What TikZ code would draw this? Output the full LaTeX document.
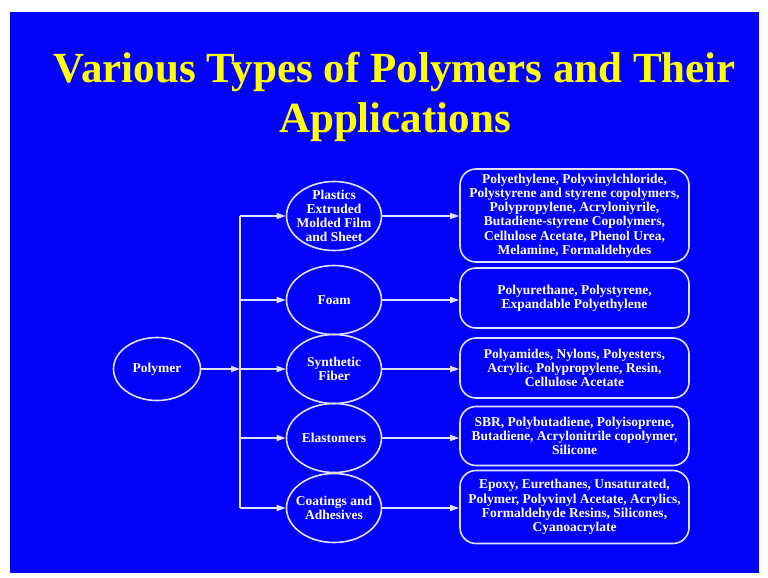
\documentclass[tikz,border=0pt]{standalone}
\usepackage{fontspec}
\setmainfont{Liberation Serif}
\usetikzlibrary{shapes.geometric,arrows.meta}
\definecolor{bgblue}{RGB}{2,2,250}
\definecolor{ttlyellow}{RGB}{255,255,0}
\definecolor{lineclr}{RGB}{225,225,255}
\tikzset{
  oval/.style={ellipse,draw=lineclr,line width=1.6pt,inner xsep=-20pt,inner ysep=-20pt,
    minimum width=95,minimum height=69,text=white,align=center,
    font=\bfseries\fontsize{13.5}{14.2}\selectfont},
  appbox/.style={rectangle,rounded corners=16,draw=lineclr,line width=1.6pt,
    minimum width=229,text=white,align=center,inner sep=0pt,
    font=\bfseries\fontsize{13.5}{14.2}\selectfont},
  conn/.style={draw=lineclr,line width=1.6pt},
  arr/.style={conn,-{Triangle[length=9,width=6]}},
  ttl/.style={font=\bfseries\fontsize{43}{50}\selectfont,inner sep=0pt,text=ttlyellow}
}
\begin{document}
\begin{tikzpicture}[x=1pt,y=-1pt]
\useasboundingbox (0,0) rectangle (768,578);
\fill[white] (0,0) rectangle (768,578);
\fill[bgblue] (10,12) rectangle (759,573);
% title
\node[ttl] (t1) at (395,72) {Various Types of Polymers and Their};
\node[ttl] (t2) at (395,122) {Applications};
% nodes
\node[oval,minimum width=87,minimum height=63] (poly) at (157,369) {Polymer};
\node[oval] (e1) at (334,216) {Plastics\\Extruded\\Molded Film\\and Sheet};
\node[oval] (e2) at (334,300) {Foam};
\node[oval] (e3) at (334,369) {Synthetic\\Fiber};
\node[oval] (e4) at (334,438) {Elastomers};
\node[oval] (e5) at (334,508) {Coatings and\\Adhesives};
\node[appbox,minimum height=93] (b1) at (574.5,215.5) {Polyethylene, Polyvinylchloride,\\Polystyrene and styrene copolymers,\\Polypropylene, Acryloniyrile,\\Butadiene-styrene Copolymers,\\Cellulose Acetate, Phenol Urea,\\Melamine, Formaldehydes};
\node[appbox,minimum height=60] (b2) at (574.5,298) {Polyurethane, Polystyrene,\\Expandable Polyethylene};
\node[appbox,minimum height=60] (b3) at (574.5,368) {Polyamides, Nylons, Polyesters,\\Acrylic, Polypropylene, Resin,\\Cellulose Acetate};
\node[appbox,minimum height=59] (b4) at (574.5,436) {SBR, Polybutadiene, Polyisoprene,\\Butadiene, Acrylonitrile copolymer,\\Silicone};
\node[appbox,minimum height=73] (b5) at (574.5,507) {Epoxy, Eurethanes, Unsaturated,\\Polymer, Polyvinyl Acetate, Acrylics,\\Formaldehyde Resins, Silicones,\\Cyanoacrylate};
% bar
\coordinate (c1) at (240,216);
\coordinate (c2) at (240,300);
\coordinate (c3) at (240,369);
\coordinate (c4) at (240,438);
\coordinate (c5) at (240,508);
\draw[conn] (c1) -- (c5);
\draw[arr] (poly.east) -- (c3);
\foreach \i in {1,...,5}{
  \draw[arr] (c\i) -- (e\i.west);
  \draw[arr] (e\i.east) -- (e\i.east -| b\i.west);
}
\end{tikzpicture}
\end{document}
